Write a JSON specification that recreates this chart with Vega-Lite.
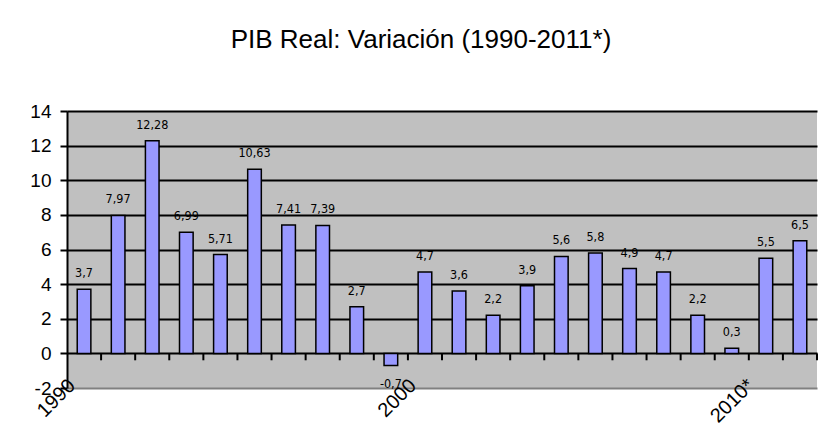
{
  "$schema": "https://vega.github.io/schema/vega-lite/v6.json",
  "width": 750,
  "height": 277,
  "autosize": {"type": "none"},
  "padding": {"left": 67, "top": 111, "right": 1, "bottom": 59},
  "background": "white",
  "title": {
    "text": "PIB Real: Variación (1990-2011*)",
    "font": "Liberation Sans",
    "fontSize": 26,
    "fontWeight": "normal",
    "color": "black",
    "anchor": "middle",
    "frame": "group",
    "dx": -21,
    "offset": 49
  },
  "config": {
    "locale": {"number": {"decimal": ",", "thousands": ".", "grouping": [3], "currency": ["", ""], "minus": "-"}},
    "view": {"fill": "#C0C0C0", "stroke": null}
  },
  "data": {
    "values": [
      {"year": "1990", "v": 3.7},
      {"year": "1991", "v": 7.97},
      {"year": "1992", "v": 12.28},
      {"year": "1993", "v": 6.99},
      {"year": "1994", "v": 5.71},
      {"year": "1995", "v": 10.63},
      {"year": "1996", "v": 7.41},
      {"year": "1997", "v": 7.39},
      {"year": "1998", "v": 2.7},
      {"year": "1999", "v": -0.7},
      {"year": "2000", "v": 4.7},
      {"year": "2001", "v": 3.6},
      {"year": "2002", "v": 2.2},
      {"year": "2003", "v": 3.9},
      {"year": "2004", "v": 5.6},
      {"year": "2005", "v": 5.8},
      {"year": "2006", "v": 4.9},
      {"year": "2007", "v": 4.7},
      {"year": "2008", "v": 2.2},
      {"year": "2009", "v": 0.3},
      {"year": "2010", "v": 5.5},
      {"year": "2011", "v": 6.5}
    ]
  },
  "encoding": {
    "x": {
      "field": "year",
      "type": "ordinal",
      "scale": {"paddingInner": 0, "paddingOuter": 0},
      "axis": {
        "title": null,
        "domain": false,
        "ticks": false,
        "grid": false,
        "labelAngle": -45,
        "labelAlign": "right",
        "labelBaseline": "top",
        "labelOffset": {"condition": {"test": "datum.value == '2010'", "value": -22}, "value": -19},
        "labelPadding": -13,
        "labelFont": "Liberation Sans",
        "labelFontSize": 20,
        "labelColor": "black",
        "labelOverlap": false,
        "labelExpr": "datum.value == '1990' ? '1990' : datum.value == '2000' ? '2000' : datum.value == '2010' ? '2010*' : ''"
      }
    }
  },
  "layer": [
    {
      "mark": {"type": "bar", "fill": "#9999FF", "stroke": "black", "strokeWidth": 1.5, "width": {"band": 0.4}},
      "encoding": {
        "y": {
          "field": "v",
          "type": "quantitative",
          "scale": {"domain": [-2, 14], "nice": false, "zero": false},
          "axis": {
            "title": null,
            "values": [-2, 0, 2, 4, 6, 8, 10, 12, 14],
            "tickCount": 20,
            "labelOverlap": false,
            "grid": true,
            "gridColor": {"condition": {"test": "datum.value == -2", "value": "#808080"}, "value": "black"},
            "gridWidth": 2,
            "gridOpacity": 1,
            "domain": true,
            "domainColor": "black",
            "domainWidth": 2,
            "ticks": true,
            "tickColor": "black",
            "tickWidth": 2,
            "tickSize": 7,
            "labelPadding": 9,
            "labelFont": "Liberation Sans",
            "labelFontSize": 19,
            "labelColor": "black"
          }
        }
      }
    },
    {
      "mark": {"type": "rule", "color": "black", "strokeWidth": 2},
      "encoding": {
        "x": {"field": "year", "type": "ordinal", "bandPosition": 1},
        "y": {"datum": 0, "type": "quantitative"},
        "y2": {"datum": -0.4}
      }
    },
    {
      "transform": [{"filter": "datum.v >= 0"}],
      "mark": {"type": "text", "baseline": "alphabetic", "dy": -12, "font": "DejaVu Sans Condensed", "fontSize": 12.5, "color": "black"},
      "encoding": {
        "y": {"field": "v", "type": "quantitative"},
        "text": {"field": "v", "type": "quantitative", "format": "~g"}
      }
    },
    {
      "transform": [{"filter": "datum.v < 0"}],
      "mark": {"type": "text", "baseline": "top", "dy": 13, "font": "DejaVu Sans Condensed", "fontSize": 12.5, "color": "black"},
      "encoding": {
        "y": {"field": "v", "type": "quantitative"},
        "text": {"field": "v", "type": "quantitative", "format": "~g"}
      }
    }
  ]
}
